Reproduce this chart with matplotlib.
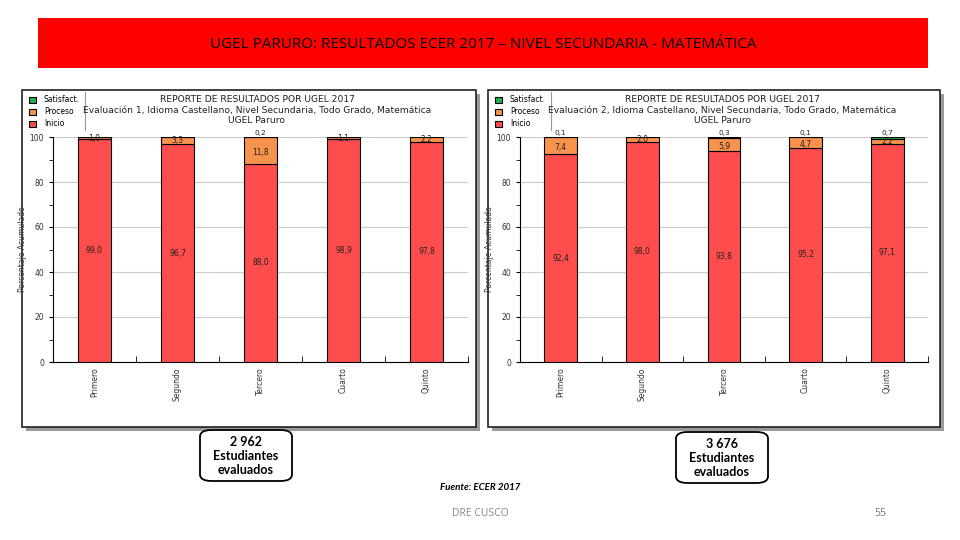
import matplotlib
matplotlib.use("Agg")
import matplotlib.pyplot as plt
from matplotlib.patches import Rectangle, FancyBboxPatch
from matplotlib.lines import Line2D
import numpy as np

grados = ["Primero", "Segundo", "Tercero", "Cuarto", "Quinto"]

ev1_inicio = [99.0, 96.7, 88.0, 98.9, 97.8]
ev1_proceso = [1.0, 3.3, 11.8, 1.1, 2.2]
ev1_satisf = [0.0, 0.0, 0.2, 0.0, 0.0]

ev2_inicio = [92.4, 98.0, 93.8, 95.2, 97.1]
ev2_proceso = [7.4, 2.0, 5.9, 4.7, 2.2]
ev2_satisf = [0.1, 0.0, 0.3, 0.1, 0.7]

estudiantes = ["2 962", "3 676"]

titulo = "UGEL PARURO: RESULTADOS ECER 2017 \u2013 NIVEL SECUNDARIA - MATEM\u00c1TICA"
subtitulos = [
    "REPORTE DE RESULTADOS POR UGEL 2017\nEvaluaci\u00f3n 1, Idioma Castellano, Nivel Secundaria, Todo Grado, Matem\u00e1tica\nUGEL Paruro",
    "REPORTE DE RESULTADOS POR UGEL 2017\nEvaluaci\u00f3n 2, Idioma Castellano, Nivel Secundaria, Todo Grado, Matem\u00e1tica\nUGEL Paruro",
]

c_inicio = "#ff4d4d"
c_proceso = "#f7934c"
c_satisf = "#22b14c"

W, H = 960, 540
fig = plt.figure(figsize=(9.6, 5.4), dpi=100)
fig.patch.set_facecolor("white")


def box(x, y, w, h):
    # pixel box (top-left origin) -> figure fraction
    return [x / W, 1 - (y + h) / H, w / W, h / H]


def fx(x):
    return x / W


def fy(y):
    return 1 - y / H


# red banner
fig.patches.append(Rectangle((fx(38), fy(68)), fx(928) - fx(38), fy(18) - fy(68),
                             transform=fig.transFigure, facecolor="#ff0000",
                             edgecolor="none", zorder=0))
fig.text(fx(483), fy(44), titulo, ha="center", va="center", fontsize=11,
         family="Open Sans", color="black")


def fmt(v):
    return ("%.1f" % v).replace(".", ",")


def panel(px, pw, ax_rect, inicio, proceso, satisf, subtitulo):
    py, ph = 90, 337
    # shadow and frame
    fig.patches.append(Rectangle((fx(px + 4), fy(py + ph + 4)), pw / W, ph / H,
                                 transform=fig.transFigure, facecolor="#9a9a9a",
                                 edgecolor="none", zorder=0))
    fig.patches.append(Rectangle((fx(px), fy(py + ph)), pw / W, ph / H,
                                 transform=fig.transFigure, facecolor="white",
                                 edgecolor="#222222", linewidth=1.2, zorder=0))
    ax = fig.add_axes(box(*ax_rect))
    ax.set_zorder(2)
    x = np.arange(len(grados))
    inicio = np.array(inicio)
    proceso = np.array(proceso)
    satisf = np.array(satisf)
    b1 = ax.bar(x, inicio, width=0.4, color=c_inicio, edgecolor="black", linewidth=0.8, zorder=3)
    b2 = ax.bar(x, proceso, bottom=inicio, width=0.4, color=c_proceso, edgecolor="black",
                linewidth=0.8, zorder=3)
    b3 = ax.bar(x, satisf, bottom=inicio + proceso, width=0.4, color=c_satisf,
                edgecolor="black", linewidth=0.8, zorder=3)
    for i in range(len(grados)):
        ax.text(x[i], inicio[i] / 2, fmt(inicio[i]), ha="center", va="center",
                fontsize=5.5, color="#222222", zorder=4)
        py_lab = inicio[i] + proceso[i] / 2
        if satisf[i] > 0 and proceso[i] > 4:
            py_lab -= 0.8
        ax.text(x[i], py_lab, fmt(proceso[i]), ha="center", va="center", fontsize=5.5,
                color="#222222", zorder=4)
        if satisf[i] > 0:
            ax.text(x[i], 101.6, fmt(satisf[i]), ha="center", va="center",
                    fontsize=5.3, color="#222222", zorder=4, clip_on=False)
    ax.set_xlim(-0.5, len(grados) - 0.5)
    ax.set_ylim(0, 100)
    ax.set_yticks([0, 20, 40, 60, 80, 100])
    ax.set_yticks([10, 30, 50, 70, 90], minor=True)
    ax.set_xticks(x)
    ax.set_xticklabels(grados, rotation=90, fontsize=5.5, color="#333333")
    ax.set_xticks(np.arange(len(grados) + 1) - 0.5, minor=True)
    ax.tick_params(axis="x", which="major", length=0, pad=4)
    ax.tick_params(axis="x", which="minor", length=4, direction="in")
    ax.tick_params(axis="y", which="both", length=3, labelsize=5.5, labelcolor="#333333")
    ax.yaxis.grid(True, color="#cccccc", linewidth=0.8, zorder=0)
    for s in ["top", "right"]:
        ax.spines[s].set_visible(False)
    ax.set_ylabel("Porcentaje Acumulado", fontsize=5.5, color="#333333", labelpad=2)
    ax.patch.set_alpha(0)

    # panel title
    fig.text(fx(px + pw / 2 + 8), fy(110), subtitulo, ha="center", va="center",
             fontsize=6.6, color="#222222", linespacing=1.25, zorder=3)
    # legend
    fig.legend([b3, b2, b1], ["Satisfact.", "Proceso", "Inicio"],
               loc="upper left", bbox_to_anchor=(fx(px + 2), fy(90)), frameon=False,
               fontsize=5.5, handlelength=0.9, handleheight=0.9, handletextpad=1.0,
               labelspacing=0.4, borderpad=0.2)
    fig.lines.append(Line2D([fx(px + 63), fx(px + 63)], [fy(92), fy(130)],
                            transform=fig.transFigure, color="#999999", linewidth=0.8))
    return ax


panel(22, 454, (53, 137, 415, 225), ev1_inicio, ev1_proceso, ev1_satisf, subtitulos[0])
panel(488, 452, (520, 137, 408, 225), ev2_inicio, ev2_proceso, ev2_satisf, subtitulos[1])

# student boxes
for (bx, by), n in zip([(200, 430), (676, 432)], estudiantes):
    fig.patches.append(FancyBboxPatch((fx(bx), fy(by + 51)), 92 / W, 51 / H,
                                      boxstyle="round,pad=0,rounding_size=0.012",
                                      transform=fig.transFigure, facecolor="white",
                                      edgecolor="black", linewidth=1.3, zorder=1))
    fig.text(fx(bx + 46), fy(by + 26), n + "\nEstudiantes\nevaluados", ha="center",
             va="center", fontsize=9, family="Lato", weight="bold", linespacing=1.15,
             zorder=2)

fig.text(fx(480), fy(488), "Fuente: ECER 2017", ha="center", va="center",
         fontsize=7, style="italic", weight="bold", family="Lato")
fig.text(fx(480), fy(514), "DRE CUSCO", ha="center", va="center", fontsize=7.5,
         color="#888888", family="Open Sans")
fig.text(fx(880), fy(514), "55", ha="center", va="center", fontsize=7.5,
         color="#777777", family="Open Sans")

fig.savefig("out.png", dpi=100)
